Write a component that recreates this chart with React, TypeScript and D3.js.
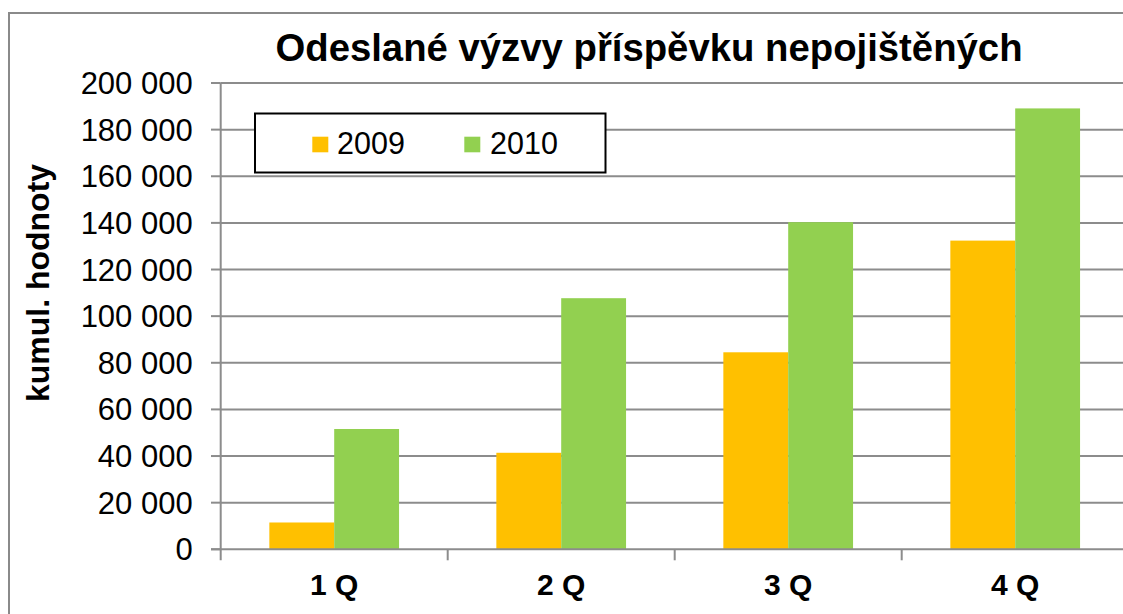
import React from "react";
import * as d3 from "d3";

const categories = ["1 Q", "2 Q", "3 Q", "4 Q"];
const seriesNames = ["2009", "2010"];
const values2009 = [11500, 41400, 84500, 132400];
const values2010 = [51600, 107700, 140300, 189100];
const seriesColors = ["#FFC000", "#92D050"];
const yTicks = [0, 20000, 40000, 60000, 80000, 100000, 120000, 140000, 160000, 180000, 200000];

const W = 1123;
const H = 614;
const plotLeft = 220.7;
const plotRight = 1128.7;
const plotTop = 83;
const plotBottom = 549.3;
const font = "'Liberation Sans', Arial, sans-serif";

export default function App() {
  const x = d3.scaleBand<string>().domain(categories).range([plotLeft, plotRight]).paddingInner(0).paddingOuter(0);
  const inner = d3
    .scaleBand<string>()
    .domain(seriesNames)
    .range([0, x.bandwidth()])
    .paddingInner(0)
    .paddingOuter(0.75);
  const y = d3.scaleLinear().domain([0, 200000]).range([plotBottom, plotTop]);
  const fmt = (v: number) => d3.format(",")(v).replace(/,/g, " ");
  const series = [values2009, values2010];
  const gridColor = "#8c8c8c";

  return (
    <svg
      width={W}
      height={H}
      style={{ position: "absolute", left: 0, top: 0, background: "#fff" }}
      fontFamily={font}
    >
      <rect x={0} y={0} width={W} height={H} fill="#fff" />
      <rect x={9} y={13} width={W + 20} height={H + 20} fill="#fff" stroke="#8a8a8a" strokeWidth={2} />
      <text x={649} y={61} textAnchor="middle" fontSize={38.3} fontWeight="bold" fill="#000">
        Odeslané výzvy příspěvku nepojištěných
      </text>
      {/* gridlines and y ticks */}
      {yTicks.map((t) => (
        <g key={t}>
          {t > 0 && (
            <line x1={plotLeft} x2={W + 10} y1={y(t)} y2={y(t)} stroke={gridColor} strokeWidth={2} />
          )}
          <line x1={211} x2={plotLeft} y1={y(t)} y2={y(t)} stroke={gridColor} strokeWidth={2} />
          <text x={192.7} y={y(t) + 11} textAnchor="end" fontSize={31} fill="#000">
            {fmt(t)}
          </text>
        </g>
      ))}
      {/* bars */}
      {categories.map((c, i) => (
        <g key={c}>
          {series.map((vals, s) => (
            <rect
              key={s}
              x={(x(c) as number) + (inner(seriesNames[s]) as number)}
              y={y(vals[i])}
              width={inner.bandwidth()}
              height={plotBottom - y(vals[i])}
              fill={seriesColors[s]}
            />
          ))}
        </g>
      ))}
      {/* axes */}
      <line x1={plotLeft} x2={plotLeft} y1={plotTop} y2={plotBottom + 11} stroke={gridColor} strokeWidth={2} />
      <line x1={211} x2={W + 10} y1={plotBottom} y2={plotBottom} stroke={gridColor} strokeWidth={2} />
      {categories.map((c, i) => (
        <g key={"t" + c}>
          {i > 0 && (
            <line
              x1={x(c) as number}
              x2={x(c) as number}
              y1={plotBottom}
              y2={plotBottom + 11}
              stroke={gridColor}
              strokeWidth={2}
            />
          )}
          <text
            x={(x(c) as number) + x.bandwidth() / 2}
            y={595}
            textAnchor="middle"
            fontSize={30}
            fontWeight="bold"
            fill="#000"
          >
            {c}
          </text>
        </g>
      ))}
      {/* y axis title */}
      <text
        transform="translate(49,283) rotate(-90)"
        textAnchor="middle"
        fontSize={32}
        fontWeight="bold"
        fill="#000"
      >
        kumul. hodnoty
      </text>
      {/* legend */}
      <rect x={255} y={113.5} width={350.5} height={59} fill="#fff" stroke="#000" strokeWidth={2} />
      {seriesNames.map((n, s) => (
        <g key={n}>
          <rect x={312.3 + s * 152} y={136.7} width={16} height={15.6} fill={seriesColors[s]} />
          <text x={337 + s * 153} y={154} fontSize={30.5} fill="#000">
            {n}
          </text>
        </g>
      ))}
    </svg>
  );
}
